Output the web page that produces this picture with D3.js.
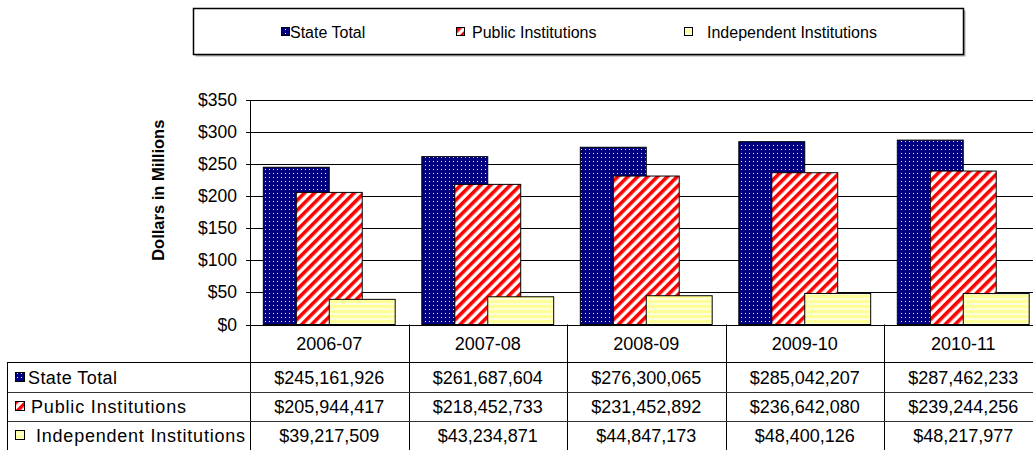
<!DOCTYPE html>
<html><head><meta charset="utf-8">
<script src="https://cdn.jsdelivr.net/npm/d3@7"></script>
<style>
html,body{margin:0;padding:0;background:#fff;}
svg{display:block;font-family:"Liberation Sans",Arial,sans-serif;}
</style></head>
<body>
<svg id="chart" width="1033" height="450"></svg>
<script>
const categories = ["2006-07","2007-08","2008-09","2009-10","2010-11"];
const seriesNames = ["State Total","Public Institutions","Independent Institutions"];
const stateTotal = [245161926, 261687604, 276300065, 285042207, 287462233];
const publicInst = [205944417, 218452733, 231452892, 236642080, 239244256];
const independentInst = [39217509, 43234871, 44847173, 48400126, 48217977];
const yTicks = [0, 50, 100, 150, 200, 250, 300, 350];
const yTickLabels = ["$0","$50","$100","$150","$200","$250","$300","$350"];

const seriesValues = [stateTotal, publicInst, independentInst];
const fills = ["url(#pDots)","url(#pStripes)","url(#pYellow)"];

const svg = d3.select("#chart");
const defs = svg.append("defs");

// patterns
const pd = defs.append("pattern").attr("id","pDots").attr("patternUnits","userSpaceOnUse")
  .attr("width",4).attr("height",4);
pd.append("rect").attr("width",4).attr("height",4).attr("fill","#000080");
pd.append("rect").attr("x",1).attr("y",1).attr("width",1).attr("height",1).attr("fill","#e6e6ff");

const ps = defs.append("pattern").attr("id","pStripes").attr("patternUnits","userSpaceOnUse")
  .attr("width",7).attr("height",7).attr("patternTransform","rotate(45)");
ps.append("rect").attr("width",7).attr("height",7).attr("fill","#ffffff");
ps.append("rect").attr("width",3.6).attr("height",7).attr("fill","#ff0000");

const py = defs.append("pattern").attr("id","pYellow").attr("patternUnits","userSpaceOnUse")
  .attr("width",5).attr("height",5);
py.append("rect").attr("width",5).attr("height",5).attr("fill","#ffff99");
py.append("rect").attr("y",3).attr("width",5).attr("height",2).attr("fill","#ffffdc");

// scales
const plotLeft = 250, plotTop = 100, plotBottom = 324.5, bandW = 158.5;
const x = d3.scaleBand().domain(categories).range([plotLeft, plotLeft + bandW*categories.length]).padding(0);
const y = d3.scaleLinear().domain([0,350]).range([plotBottom, plotTop]);

// gridlines
const gy = svg.append("g");
gy.selectAll("line").data(yTicks).join("line")
  .attr("x1", plotLeft-4).attr("x2", 1033)
  .attr("y1", d => Math.round(y(d))+0.5).attr("y2", d => Math.round(y(d))+0.5)
  .attr("stroke","#000").attr("stroke-width",1);
gy.selectAll("text").data(yTicks).join("text")
  .attr("x", plotLeft-13).attr("y", d => y(d))
  .attr("text-anchor","end").attr("dominant-baseline","central")
  .attr("font-size",17.5).attr("fill","#000")
  .text((d,i) => yTickLabels[i]);

// axis title
svg.append("text")
  .attr("transform", `translate(158,${(plotTop+plotBottom)/2 - 22}) rotate(-90)`)
  .attr("text-anchor","middle").attr("dominant-baseline","central")
  .attr("font-size",16.5).attr("font-weight","bold").text("Dollars in Millions");

// bars
const bw = x.bandwidth();
const barW = bw*0.416;
const groupStart = (bw - 2*barW)/2;
seriesValues.forEach((vals, si) => {
  svg.append("g").selectAll("rect").data(vals).join("rect")
    .attr("x", (d,i) => x(categories[i]) + groupStart + si*barW/2)
    .attr("y", d => y(d/1e6))
    .attr("width", barW)
    .attr("height", d => plotBottom - y(d/1e6))
    .attr("fill", fills[si])
    .attr("stroke","#000").attr("stroke-width",1);
});

// axis line
svg.append("line").attr("x1",plotLeft+0.5).attr("x2",plotLeft+0.5).attr("y1",plotTop).attr("y2",450)
  .attr("stroke","#000");

// data table
const tableLeft = 7.5;
const rowY = [plotBottom, 362, 391.5, 420.5, 450];
const tb = svg.append("g");
categories.forEach((c,i) => {
  const xr = x(c) + bw;
  tb.append("line").attr("x1",Math.round(xr)+0.5).attr("x2",Math.round(xr)+0.5)
    .attr("y1",plotBottom).attr("y2",450).attr("stroke","#000");
  tb.append("text").attr("x", x(c)+bw/2).attr("y",(rowY[0]+rowY[1])/2+1)
    .attr("text-anchor","middle").attr("dominant-baseline","central")
    .attr("font-size",18).text(c);
});
[1,2,3].forEach(r => {
  tb.append("line").attr("x1",tableLeft).attr("x2",1033)
    .attr("y1",Math.round(rowY[r])+0.5).attr("y2",Math.round(rowY[r])+0.5)
    .attr("stroke", r===1 ? "#000" : "#333");
});
tb.append("line").attr("x1",tableLeft).attr("x2",tableLeft).attr("y1",rowY[1]).attr("y2",450).attr("stroke","#000");

const fmt = d3.format("$,");
const labelX = [28, 31, 36];
const labelLen = [89, 155, 209];
seriesNames.forEach((name, si) => {
  const cy = (rowY[si+1]+rowY[si+2])/2;
  tb.append("rect").attr("x",15.5).attr("y",Math.round(cy)-4.5).attr("width",9).attr("height",9)
    .attr("fill",fills[si]).attr("stroke","#000");
  tb.append("text").attr("x",labelX[si]).attr("y",cy+1).attr("dominant-baseline","central")
    .attr("font-size",18).attr("textLength",labelLen[si]).attr("lengthAdjust","spacing").text(name);
  seriesValues[si].forEach((v,i) => {
    tb.append("text").attr("x", x(categories[i])+bw/2).attr("y",cy+1)
      .attr("text-anchor","middle").attr("dominant-baseline","central")
      .attr("font-size",18).text(fmt(v));
  });
});

// legend
const lg = svg.append("g");
lg.append("rect").attr("x",195.5).attr("y",10.5).attr("width",770).attr("height",46).attr("fill","#aaa");
lg.append("rect").attr("x",193.5).attr("y",8.5).attr("width",770).attr("height",46)
  .attr("fill","#fff").attr("stroke","#000").attr("stroke-width",1.5);
const legX = [281.5, 456.5, 684.5];
const legTextX = [290, 472, 707];
seriesNames.forEach((name, si) => {
  lg.append("rect").attr("x",legX[si]).attr("y",27.5).attr("width",8).attr("height",8)
    .attr("fill",fills[si]).attr("stroke","#000");
  lg.append("text").attr("x",legTextX[si]).attr("y",32).attr("dominant-baseline","central")
    .attr("font-size",16).text(name);
});
</script>
</body></html>
